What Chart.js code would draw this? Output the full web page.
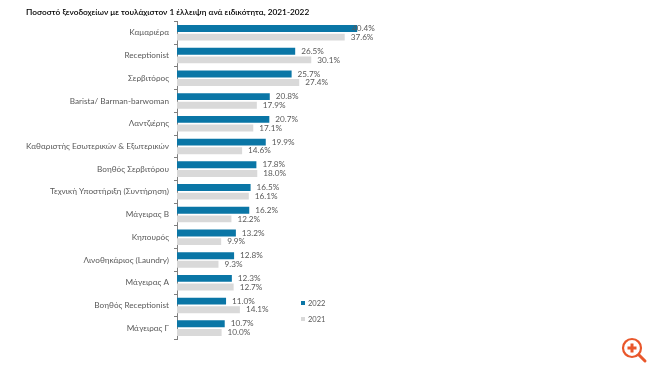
<!DOCTYPE html>
<html>
<head>
<meta charset="utf-8">
<script src="https://cdn.jsdelivr.net/npm/chart.js@4"></script>
<style>
  html, body { margin: 0; padding: 0; background: #fff; }
  #wrap { position: relative; width: 650px; height: 366px; overflow: hidden; }
  #chart { position: absolute; left: 0; top: 0; }
  .legend-item { position: absolute; left: 301px; font: 7.5px Lato, sans-serif; color: #595959; line-height: 10px; }
  .legend-item i { display: inline-block; width: 4px; height: 4px; margin-right: 3px; vertical-align: 1px; }
  #zoom-icon { position: absolute; left: 620px; top: 336px; }
</style>
</head>
<body>
<div id="wrap">
  <canvas id="chart" width="650" height="366"></canvas>
  <div id="legend"></div>
  <svg id="zoom-icon" width="28" height="28" viewBox="0 0 28 28">
    <circle cx="12" cy="12" r="9" fill="none" stroke="#e9572b" stroke-width="2.2"/>
    <path d="M12 7.5v9M7.5 12h9" stroke="#e9572b" stroke-width="3"/>
    <path d="M19 19l6 6" stroke="#e9572b" stroke-width="3" stroke-linecap="round"/>
  </svg>
</div>
<script>
const categories = [
  'Καμαριέρα', 'Receptionist', 'Σερβιτόρος', 'Barista/ Barman-barwoman', 'Λαντζιέρης',
  'Καθαριστής Εσωτερικών & Εξωτερικών', 'Βοηθός Σερβιτόρου', 'Τεχνική Υποστήριξη (Συντήρηση)',
  'Μάγειρας Β', 'Κηπουρός', 'Λινοθηκάριος (Laundry)', 'Μάγειρας Α', 'Βοηθός Receptionist', 'Μάγειρας Γ'
];
const values2022 = [40.4, 26.5, 25.7, 20.8, 20.7, 19.9, 17.8, 16.5, 16.2, 13.2, 12.8, 12.3, 11.0, 10.7];
const values2021 = [37.6, 30.1, 27.4, 17.9, 17.1, 14.6, 18.0, 16.1, 12.2, 9.9, 9.3, 12.7, 14.1, 10.0];
const chartTitle = 'Ποσοστό ξενοδοχείων με τουλάχιστον 1 έλλειψη ανά ειδικότητα, 2021-2022';

const fontFamily = 'Lato, sans-serif';
const labelColor = '#595959';

// value labels next to each bar, the longest one runs back over its bar
const barLabels = {
  id: 'barLabels',
  afterDatasetsDraw(chart) {
    const ctx = chart.ctx;
    ctx.save();
    ctx.font = '8.2px ' + fontFamily;
    ctx.fillStyle = labelColor;
    ctx.textBaseline = 'middle';
    chart.data.datasets.forEach((ds, d) => {
      chart.getDatasetMeta(d).data.forEach((bar, i) => {
        const x = Math.min(bar.x + 6, 352);
        ctx.fillText(ds.data[i].toFixed(1) + '%', x, bar.y);
      });
    });
    ctx.restore();
  }
};

const ctx = document.getElementById('chart');

const chart = new Chart(ctx, {
  type: 'bar',
  data: {
    labels: categories,
    datasets: [
      { label: '2022', data: values2022, backgroundColor: '#0a76a6', barPercentage: 0.8, categoryPercentage: 0.76 },
      { label: '2021', data: values2021, backgroundColor: '#d9d9d9', barPercentage: 0.8, categoryPercentage: 0.76 }
    ]
  },
  options: {
    indexAxis: 'y',
    responsive: false,
    animation: false,
    layout: { padding: { left: 26, right: 250, top: 7.5, bottom: 26.5 } },
    plugins: {
      legend: { display: false },
      tooltip: { enabled: false },
      title: {
        display: true,
        text: chartTitle,
        align: 'start',
        color: '#000000',
        font: { family: fontFamily, size: 8.3, weight: '600' },
        padding: { top: 0, bottom: 4 }
      }
    },
    scales: {
      x: { display: false, min: 0, max: 50 },
      y: {
        afterFit(scale) { scale.width = 151; },
        border: { color: '#7f7f7f', width: 1 },
        grid: { display: true, drawOnChartArea: false, drawTicks: true, tickLength: 3, color: '#7f7f7f' },
        ticks: { color: labelColor, font: { family: fontFamily, size: 8.2 }, padding: 5, autoSkip: false }
      }
    }
  },
  plugins: [barLabels]
});

// legend sits off to the side of the plot, built from the datasets
const legend = document.getElementById('legend');
chart.data.datasets.forEach((ds, d) => {
  const item = document.createElement('div');
  item.className = 'legend-item';
  item.style.top = (299 + d * 15.5) + 'px';
  item.innerHTML = '<i style="background:' + ds.backgroundColor + '"></i>' + ds.label;
  legend.appendChild(item);
});
</script>
</body>
</html>
